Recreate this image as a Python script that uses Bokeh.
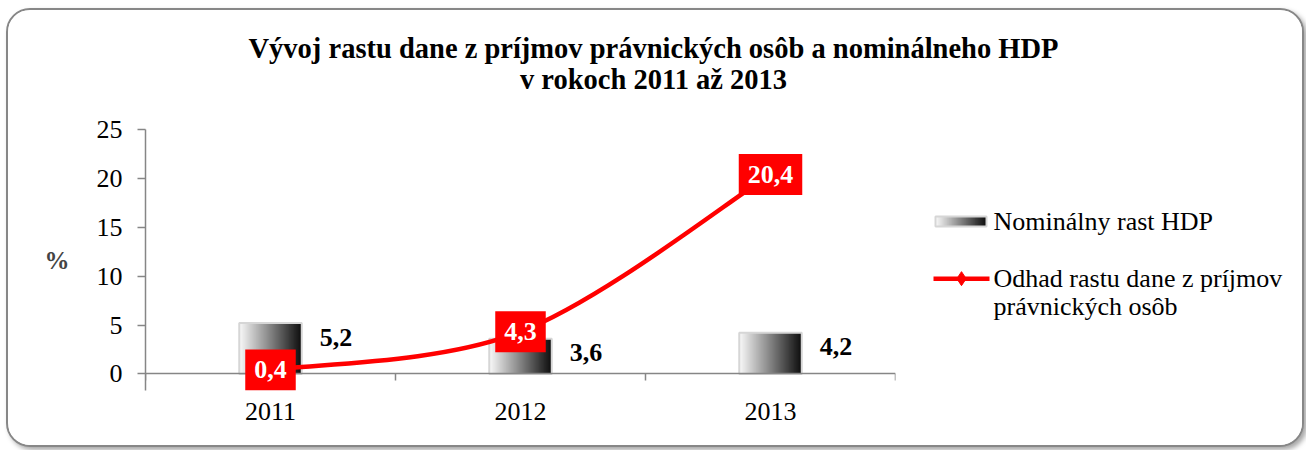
import numpy as np
from bokeh.plotting import figure
from bokeh.models import Range1d, FixedTicker, Label, LinearAxis
from bokeh.layouts import column, row
from bokeh.core.properties import value
from bokeh.embed import file_html
from bokeh.resources import INLINE

# ---- data ----
TITLE_LINES = ["Vývoj rastu dane z príjmov právnických osôb a nominálneho HDP",
               "v rokoch 2011 až 2013"]
YEARS = ["2011", "2012", "2013"]
HDP = [5.2, 3.6, 4.2]          # Nominálny rast HDP
DAN = [0.4, 4.3, 20.4]         # Odhad rastu dane z príjmov právnických osôb
Y_TICKS = [0, 5, 10, 15, 20, 25]
Y_LABEL = "%"
LEGEND_BAR = "Nominálny  rast HDP"
LEGEND_LINE = ["Odhad rastu dane z príjmov", "právnických osôb"]

FONT = "Liberation Serif"
AX = "#868686"
RED = "#FF0000"
EDGE = "#d6d6d6"


def fmt(v):
    return f"{v:.1f}".replace(".", ",")


def grad_colors(n):
    out = []
    for k in range(n):
        t = k / (n - 1)
        g = int(round(247 - t * (247 - 14)))
        out.append(f"#{g:02x}{g:02x}{g:02x}")
    return out


# ---------------- title ----------------
tfig = figure(width=1294, height=99, x_range=Range1d(0, 1294), y_range=Range1d(99, 0),
              output_backend="svg", toolbar_location=None, min_border=0)
tfig.axis.visible = False
tfig.grid.visible = False
tfig.outline_line_color = None
tfig.text(x=[645, 645], y=[38, 69], text=TITLE_LINES, text_font=value(FONT),
          text_font_style="bold", text_font_size="28.5px", text_align="center",
          text_baseline="middle", text_color="black")

# ---------------- main plot ----------------
# y range reaches a little below 0 so the label box of the first point is not clipped;
# the x axis line is pinned at y = 0
p = figure(width=897, height=336, x_range=Range1d(0, 3), y_range=Range1d(-1.7, 25),
           output_backend="svg", toolbar_location=None,
           min_border_left=137, min_border_right=10, min_border_top=20, min_border_bottom=55)
p.outline_line_color = None
p.grid.visible = False

cats = np.arange(len(YEARS))
xa = p.below[0]
xa.fixed_location = 0
xa.ticker = FixedTicker(ticks=list(cats + 0.5), minor_ticks=list(np.arange(len(YEARS) + 1)))
xa.major_label_overrides = {float(c + 0.5): "" for c in cats}
xa.major_label_text_font_size = "0px"
xa.major_label_standoff = 0
xa.major_tick_line_color = None
xa.major_tick_out = 7
xa.major_tick_in = 0
xa.minor_tick_out = 7
xa.minor_tick_in = 0
xa.minor_tick_line_color = AX
xa.minor_tick_line_width = 1.5
xa.axis_line_color = AX
xa.axis_line_width = 1.5

# category labels on a second, line-less axis at the bottom of the frame
xl = LinearAxis(ticker=FixedTicker(ticks=list(cats + 0.5), minor_ticks=[]),
                major_label_overrides={float(c + 0.5): y for c, y in zip(cats, YEARS)},
                axis_line_color=None, major_tick_line_color=None, minor_tick_line_color=None,
                major_tick_out=0, major_tick_in=0, major_label_standoff=12,
                major_label_text_font=FONT, major_label_text_font_size="26px",
                major_label_text_color="black")
p.add_layout(xl, "below")

ya = p.left[0]
ya.ticker = FixedTicker(ticks=Y_TICKS, minor_ticks=[])
ya.major_tick_out = 8
ya.major_tick_in = 0
ya.major_label_standoff = 15
ya.axis_label = Y_LABEL
ya.axis_label_text_font = FONT
ya.axis_label_text_font_style = "bold"
ya.axis_label_text_font_size = "25px"
ya.axis_label_standoff = 24
try:
    ya.axis_label_orientation = "horizontal"
except Exception:
    pass
ya.axis_line_color = AX
ya.axis_line_width = 1.5
ya.major_tick_line_width = 1.5
ya.major_tick_line_color = AX
ya.major_label_text_font = FONT
ya.major_label_text_font_size = "26px"
ya.major_label_text_color = "black"

# gradient bars: overlapping slices, each reaching the bar's right edge
N = 50
cols = grad_colors(N)
BW = 0.25
lefts, rights, tops, fills = [], [], [], []
for c, h in zip(cats, HDP):
    x0 = c + 0.5 - BW / 2
    for k in range(N):
        lefts.append(x0 + k * BW / N)
        rights.append(x0 + BW)
        tops.append(h)
        fills.append(cols[k])
p.quad(left=lefts, right=rights, bottom=0, top=tops, fill_color=fills, line_color=None)
p.quad(left=list(cats + 0.5 - BW / 2), right=list(cats + 0.5 + BW / 2), bottom=0, top=HDP,
       fill_color=None, line_color=EDGE, line_width=2)
p.text(x=list(cats + 0.5 + BW / 2), y=HDP, text=[fmt(v) for v in HDP], x_offset=18, y_offset=14,
       text_font=value(FONT), text_font_style="bold", text_font_size="26px",
       text_align="left", text_baseline="middle", text_color="black")

# smoothed red line (Excel-like bezier smoothing computed from data)
xs = list(cats + 0.5)
ys = DAN
n = len(xs)
bx0, by0, bx1, by1, cx0, cy0, cx1, cy1 = [], [], [], [], [], [], [], []
for i in range(n - 1):
    pm = (xs[max(i - 1, 0)], ys[max(i - 1, 0)])
    p0 = (xs[i], ys[i])
    p1 = (xs[i + 1], ys[i + 1])
    pp = (xs[min(i + 2, n - 1)], ys[min(i + 2, n - 1)])
    bx0.append(p0[0]); by0.append(p0[1]); bx1.append(p1[0]); by1.append(p1[1])
    cx0.append(p0[0] + (p1[0] - pm[0]) / 6); cy0.append(p0[1] + (p1[1] - pm[1]) / 6)
    cx1.append(p1[0] - (pp[0] - p0[0]) / 6); cy1.append(p1[1] - (pp[1] - p0[1]) / 6)
p.bezier(x0=bx0, y0=by0, x1=bx1, y1=by1, cx0=cx0, cy0=cy0, cx1=cx1, cy1=cy1,
         line_color=RED, line_width=4.5)
p.scatter(x=xs, y=ys, marker="diamond", size=14, fill_color=RED, line_color=RED)
for xv, yv in zip(xs, ys):
    p.add_layout(Label(x=xv, y=yv, text=fmt(yv), text_font=FONT, text_font_style="bold",
                       text_font_size="26px", text_align="center", text_baseline="middle",
                       text_color="white", background_fill_color=RED, padding=(9, 12)))

# ---------------- legend ----------------
lg = figure(width=397, height=336, x_range=Range1d(0, 397), y_range=Range1d(336, 0),
            output_backend="svg", toolbar_location=None, min_border=0)
lg.axis.visible = False
lg.grid.visible = False
lg.outline_line_color = None
LN = 40
lcols = grad_colors(LN)
lx = np.linspace(30, 81, LN + 1)
lg.quad(left=list(lx[:-1]), right=81, top=112, bottom=125, fill_color=lcols, line_color=None)
lg.quad(left=[30], right=[81], top=[112], bottom=[125], fill_color=None, line_color=EDGE, line_width=2)
lg.line(x=[28, 84], y=[192, 192], line_color=RED, line_width=4.5)
lg.scatter(x=[56], y=[192], marker="diamond", size=14, fill_color=RED, line_color=RED)
lg.text(x=[88, 88, 88], y=[118, 192, 228], text=[LEGEND_BAR] + LEGEND_LINE, text_font=value(FONT),
        text_font_size="26px", text_align="left", text_baseline="middle", text_color="black")

layout = column(tfig, row(p, lg),
                styles={"border": "2px solid #878787", "border-radius": "24px",
                        "box-shadow": "3px 3px 5px rgba(0,0,0,0.35)", "overflow": "hidden",
                        "background-color": "white", "margin-top": "8px", "margin-left": "6px"})

open("out.html", "w").write(file_html(layout, INLINE))
